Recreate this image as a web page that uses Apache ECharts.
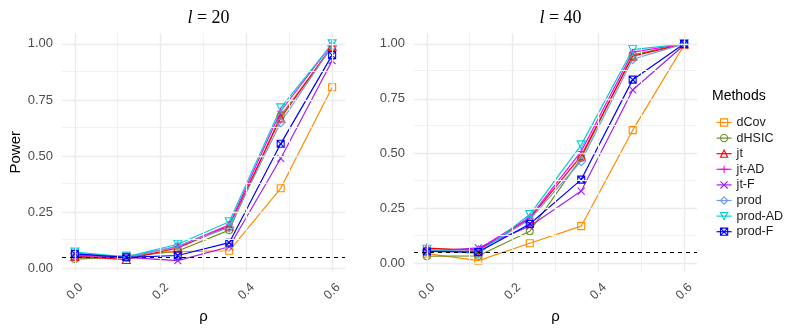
<!DOCTYPE html>
<html>
<head>
<meta charset="utf-8">
<script src="https://cdn.jsdelivr.net/npm/echarts@6/dist/echarts.min.js"></script>
<style>html,body{margin:0;padding:0;background:#fff;}#c{width:793px;height:331px;}</style>
</head>
<body>
<div id="c"></div>
<script>
// ---- data ----
const rho = [0, 0.12, 0.24, 0.36, 0.48, 0.6];
const methods = ['dCov', 'dHSIC', 'jt', 'jt-AD', 'jt-F', 'prod', 'prod-AD', 'prod-F'];
const panelTitles = ['20', '40'];

// l = 20
const dCov20   = [0.050, 0.058, 0.075, 0.079, 0.357, 0.807];
const dHSIC20  = [0.042, 0.052, 0.078, 0.171, 0.680, 0.985];
const jt20     = [0.055, 0.040, 0.092, 0.190, 0.670, 0.990];
const jtAD20   = [0.060, 0.050, 0.098, 0.195, 0.700, 1.000];
const jtF20    = [0.050, 0.050, 0.035, 0.097, 0.490, 0.925];
const prod20   = [0.068, 0.050, 0.100, 0.183, 0.650, 0.990];
const prodAD20 = [0.073, 0.052, 0.108, 0.208, 0.715, 1.000];
const prodF20  = [0.065, 0.050, 0.058, 0.115, 0.555, 0.950];

// l = 40
const dCov40   = [0.045, 0.013, 0.092, 0.170, 0.607, 0.995];
const dHSIC40  = [0.033, 0.035, 0.147, 0.480, 0.950, 1.000];
const jt40     = [0.070, 0.060, 0.205, 0.490, 0.944, 1.000];
const jtAD40   = [0.060, 0.065, 0.210, 0.510, 0.962, 1.000];
const jtF40    = [0.055, 0.071, 0.170, 0.330, 0.790, 0.995];
const prod40   = [0.060, 0.055, 0.200, 0.466, 0.930, 1.000];
const prodAD40 = [0.065, 0.045, 0.223, 0.540, 0.974, 1.000];
const prodF40  = [0.055, 0.052, 0.180, 0.382, 0.837, 1.000];

const nominalLevel = 0.05;
const xTickLabels = [0, 0.2, 0.4, 0.6];
const xMinor = [0.1, 0.3, 0.5];
const yTickLabels = [0, 0.25, 0.5, 0.75, 1];
const yMinor = [0.125, 0.375, 0.625, 0.875];

const panelData = [
  [dCov20, dHSIC20, jt20, jtAD20, jtF20, prod20, prodAD20, prodF20],
  [dCov40, dHSIC40, jt40, jtAD40, jtF40, prod40, prodAD40, prodF40]
];

// ---- styles ----
const colors = ['#FF8C00', '#6B8E23', '#FF0000', '#FF00FF', '#A020F0', '#6E9BEA', '#00CED1', '#0000FF'];
const symbols = [
  'rect', 'circle', 'triangle',
  'path://M5,0L5,10M0,5L10,5',
  'path://M0,0L10,10M10,0L0,10',
  'diamond',
  'path://M0,0L10,0L5,8.66Z',
  'path://M0,0L10,0L10,10L0,10ZM0,0L10,10M10,0L0,10'
];
const symbolSizes = [7, 7, 8, 7, 7, 9, 8, 7];

const gridLeft = [62, 414];
const gridW = 283, gridTop = 33, gridH = 238.5;

const FONT = 'Liberation Sans';
const chart = echarts.init(document.getElementById('c'), null, {renderer: 'canvas'});

const grids = [], xAxes = [], yAxes = [], series = [], titles = [];

panelData.forEach((pd, p) => {
  let all = [];
  pd.forEach(a => all = all.concat(a));
  all.push(nominalLevel);
  const dmin = Math.min(...all), dmax = Math.max(...all);
  const pad = 0.05 * (dmax - dmin);
  const xpad = 0.05 * (rho[rho.length - 1] - rho[0]);

  grids.push({left: gridLeft[p], top: gridTop, width: gridW, height: gridH, containLabel: false});
  xAxes.push({
    type: 'value', gridIndex: p, min: rho[0] - xpad, max: rho[rho.length - 1] + xpad,
    axisLine: {show: false}, axisTick: {show: false, customValues: xTickLabels},
    splitLine: {show: false},
    axisLabel: {
      customValues: xTickLabels, formatter: v => v.toFixed(1), rotate: 45,
      align: 'center', verticalAlign: 'middle', margin: 20,
      color: '#4D4D4D', fontSize: 12.5, fontFamily: FONT
    },
    name: 'ρ', nameLocation: 'middle', nameGap: 32,
    nameTextStyle: {color: '#000', fontSize: 15, fontFamily: FONT}
  });
  yAxes.push({
    type: 'value', gridIndex: p, min: dmin - pad, max: dmax + pad,
    axisLine: {show: false}, axisTick: {show: false, customValues: yTickLabels},
    splitLine: {show: false},
    axisLabel: {
      customValues: yTickLabels, formatter: v => v.toFixed(2), margin: 9,
      color: '#4D4D4D', fontSize: 13, fontFamily: FONT
    },
    name: p === 0 ? 'Power' : '', nameLocation: 'middle', nameGap: 39,
    nameTextStyle: {color: '#000', fontSize: 15, fontFamily: FONT}
  });

  // gridlines (helper series)
  const gl = [];
  xMinor.forEach(v => gl.push({xAxis: v, lineStyle: {color: '#F1F1F1', width: 1}}));
  yMinor.forEach(v => gl.push({yAxis: v, lineStyle: {color: '#F1F1F1', width: 1}}));
  xTickLabels.forEach(v => gl.push({xAxis: v, lineStyle: {color: '#EBEBEB', width: 1.3}}));
  yTickLabels.forEach(v => gl.push({yAxis: v, lineStyle: {color: '#EBEBEB', width: 1.3}}));
  series.push({
    type: 'line', xAxisIndex: p, yAxisIndex: p, data: [], silent: true, z: 1,
    markLine: {silent: true, symbol: ['none', 'none'], label: {show: false}, animation: false,
      lineStyle: {type: 'solid'}, emphasis: {disabled: true}, data: gl}
  });

  methods.forEach((m, i) => {
    series.push({
      name: m, type: 'line', xAxisIndex: p, yAxisIndex: p, z: 2,
      data: rho.map((r, k) => [r, pd[i][k]]),
      symbol: symbols[i], symbolSize: symbolSizes[i], showSymbol: true,
      itemStyle: {color: 'rgba(255,255,255,0)', borderColor: colors[i], borderWidth: 1.1},
      lineStyle: {color: colors[i], width: 1.2},
      emphasis: {disabled: true}, silent: true
    });
  });

  // nominal level dashed line
  series.push({
    type: 'line', xAxisIndex: p, yAxisIndex: p, data: [], silent: true, z: 3,
    markLine: {silent: true, symbol: ['none', 'none'], label: {show: false}, animation: false,
      emphasis: {disabled: true},
      lineStyle: {color: '#000', type: [4, 4], width: 1},
      data: [{yAxis: nominalLevel}]}
  });

  titles.push({
    text: '{i|l} = ' + panelTitles[p],
    left: gridLeft[p] + gridW / 2, top: 4, textAlign: 'center',
    textStyle: {
      fontFamily: 'Liberation Serif', fontSize: 18, fontWeight: 'normal', color: '#000',
      rich: {i: {fontFamily: 'Liberation Serif', fontStyle: 'italic', fontSize: 18, color: '#000'}}
    }
  });
});

chart.setOption({
  animation: false,
  backgroundColor: '#fff',
  title: titles,
  grid: grids,
  xAxis: xAxes,
  yAxis: yAxes,
  legend: {
    data: methods.map((m, i) => ({
      name: m,
      itemStyle: {color: 'rgba(255,255,255,0)', borderColor: colors[i], borderWidth: 1.1},
      lineStyle: {color: colors[i], width: 1.2}
    })),
    orient: 'vertical', left: 711, top: 110.5,
    itemWidth: 15, itemHeight: 9, itemGap: 1.6,
    textStyle: {fontFamily: FONT, fontSize: 12.5, color: '#1A1A1A', lineHeight: 14},
    selectedMode: false
  },
  graphic: [{
    type: 'text', left: 712, top: 89,
    style: {text: 'Methods', fontFamily: FONT, fontSize: 14, fill: '#000'}
  }],
  series: series
});
</script>
</body>
</html>
